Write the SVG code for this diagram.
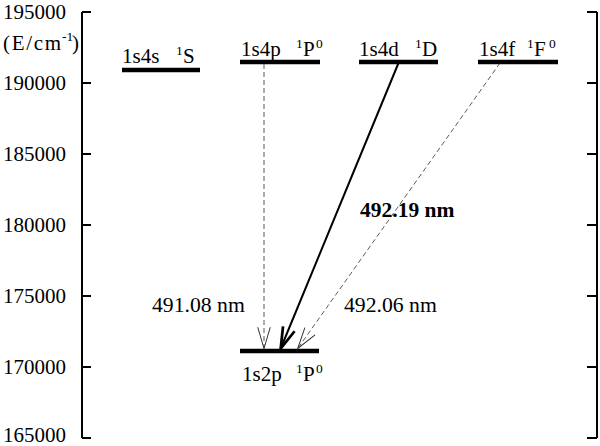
<svg xmlns="http://www.w3.org/2000/svg" width="600" height="446" viewBox="0 0 600 446" font-family="'Liberation Serif', 'DejaVu Serif', serif">
<style>
text{font-family:'Liberation Serif','Times New Roman','DejaVu Serif',serif;fill:#000}
.t{font-size:21px}
.s{font-size:13.5px}
.ax{font-size:21px;text-anchor:end}
.lv{stroke:#000;stroke-width:4.5;fill:none}
.axis{stroke:#000;stroke-width:2;fill:none}
.dash{stroke:#333;stroke-width:0.8;stroke-dasharray:5 3;fill:none}
.solid{stroke:#000;stroke-width:2;fill:none}
.w{font-size:21.7px}
.b{font-size:21.5px;font-weight:bold}
</style>
<defs>
<marker id="ah-thin" markerUnits="userSpaceOnUse" markerWidth="30" markerHeight="30" viewBox="-20 -10 24 20" refX="0" refY="0" orient="auto">
<path d="M-17,-5 L0,0 L-17,5" fill="none" stroke="#333" stroke-width="0.8"/>
</marker>
<marker id="ah-bold" markerUnits="userSpaceOnUse" markerWidth="30" markerHeight="30" viewBox="-20 -10 24 20" refX="0" refY="0" orient="auto">
<path d="M-17,-5 L0,0 L-17,5" fill="none" stroke="#000" stroke-width="2.2"/>
</marker>
</defs>
<rect width="600" height="446" fill="#fff"/>
<g id="axes">
<path class="axis" d="M82,12 V438 M82,12 H91 M82,83 H91 M82,154 H91 M82,225 H91 M82,296 H91 M82,367 H91 M82,438 H91"/>
<path class="axis" d="M597,12 V438 M597,12 H587 M597,83 H587 M597,154 H587 M597,225 H587 M597,296 H587 M597,367 H587 M597,438 H587"/>
<text class="ax" x="66" y="19">195000</text>
<text class="ax" x="66" y="90">190000</text>
<text class="ax" x="66" y="161">185000</text>
<text class="ax" x="66" y="232">180000</text>
<text class="ax" x="66" y="303">175000</text>
<text class="ax" x="66" y="374">170000</text>
<text class="ax" x="66" y="442">165000</text>
<text class="t" x="3" y="50" textLength="58" lengthAdjust="spacing">(E/cm</text>
<text class="s" x="62" y="41">-1</text>
<text class="t" x="72" y="50">)</text>
</g>
<g id="level-1s4s">
<line class="lv" x1="122" y1="70" x2="200" y2="70"/>
<text class="t" x="122" y="63">1s4s</text>
<text class="s" x="176" y="55">1</text>
<text class="t" x="183" y="63">S</text>
</g>
<g id="level-1s4p">
<line class="lv" x1="240" y1="62" x2="320" y2="62"/>
<text class="t" x="241" y="56">1s4p</text>
<text class="s" x="296" y="48">1</text>
<text class="t" x="303" y="56">P</text>
<text class="s" x="316" y="48">0</text>
</g>
<g id="level-1s4d">
<line class="lv" x1="359" y1="62" x2="438" y2="62"/>
<text class="t" x="359" y="56">1s4d</text>
<text class="s" x="415" y="48">1</text>
<text class="t" x="422" y="56">D</text>
</g>
<g id="level-1s4f">
<line class="lv" x1="478" y1="62" x2="558" y2="62"/>
<text class="t" x="479" y="56">1s4f</text>
<text class="s" x="527" y="48">1</text>
<text class="t" x="534" y="56">F</text>
<text class="s" x="549" y="48">0</text>
</g>
<g id="level-1s2p">
<line class="lv" x1="240" y1="351" x2="319" y2="351"/>
<text class="t" x="242" y="381">1s2p</text>
<text class="s" x="296" y="373">1</text>
<text class="t" x="303" y="381">P</text>
<text class="s" x="316" y="373">0</text>
</g>
<g id="connectors">
<line class="dash" x1="264" y1="64" x2="264" y2="348.5" marker-end="url(#ah-thin)"/>
<line class="solid" x1="398.5" y1="63" x2="280.7" y2="348.5" marker-end="url(#ah-bold)"/>
<line class="dash" x1="500" y1="63" x2="297.7" y2="348.5" marker-end="url(#ah-thin)"/>
<text class="w" x="152" y="312">491.08 nm</text>
<text class="w" x="344" y="312">492.06 nm</text>
<text class="b" x="360" y="217">492.19 nm</text>
</g>
</svg>
